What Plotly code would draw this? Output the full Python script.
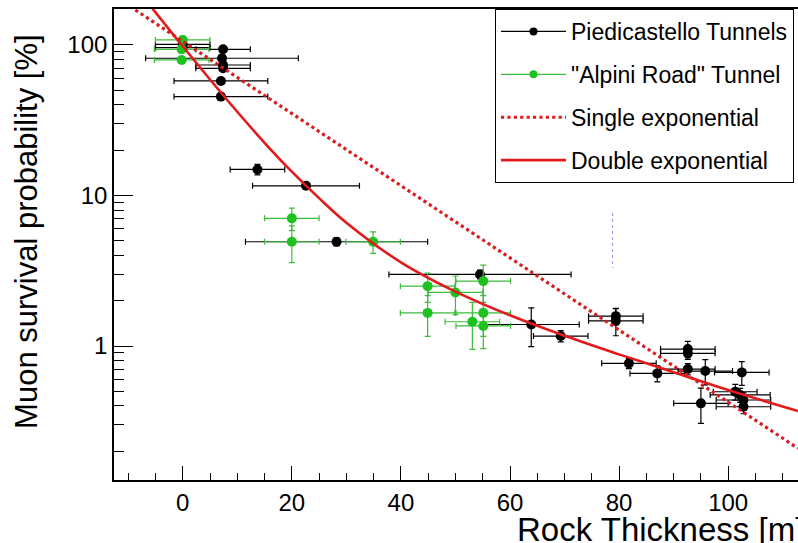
import plotly.graph_objects as go

# ---- data ----
pied_x = [0, 0, 7.4, 7.2, 7.4, 7.4, 7.0, 7.0, 13.7, 22.6, 28.2, 54.5, 63.9, 69.3,
          79.4, 79.4, 81.8, 87.0, 92.6, 92.6, 92.6, 95.8, 102.5, 95.0, 101.3, 102.2, 102.8, 102.8]
pied_y = [101, 96, 93.6, 81.6, 73.6, 70, 57.7, 45.4, 14.9, 11.6, 4.93, 2.99, 1.39, 1.165,
          1.58, 1.47, 0.767, 0.658, 0.955, 0.894, 0.703, 0.682, 0.668, 0.416, 0.497, 0.473, 0.438, 0.395]
pied_xerr = [5, 5, 5, 14, 5, 5, 8.6, 8.6, 5, 9.8, 16.7, 16.7, 8.8, 5,
             5, 5, 5, 5, 5, 5, 5, 5, 5, 5, 4, 5.5, 5, 5]
pied_yerr = [4, 4, 4, 3, 3, 3, 2.5, 2, 1.2, 0.6, 0.3, 0.2, 0.4, 0.1,
             0.2, 0.3, 0.06, 0.08, 0.12, 0.08, 0.06, 0.13, 0.12, 0.11, 0.06, 0.05, 0.05, 0.04]

alp_x = [0, -0.2, -0.2, 20, 20, 34.9, 44.9, 44.9, 50.0, 53.1, 55.1, 55.1, 55.1]
alp_y = [108, 93.6, 79.5, 7.05, 4.93, 4.93, 2.50, 1.66, 2.27, 1.45, 2.70, 1.66, 1.36]
alp_xerr = [5, 5, 5, 5, 5, 5, 5, 5, 5, 5, 5, 5, 5]
alp_yerr = [6, 5, 4, 1.2, 1.35, 0.8, 0.55, 0.5, 0.65, 0.5, 0.75, 0.5, 0.4]

single_x = [-12.6, 20, 60, 112.8]
single_y = [212, 35.0, 3.87, 0.209]

double_x = [-6, 0, 5, 10, 15, 20, 25, 30, 40, 50, 60, 70, 80, 90, 100, 112.8]
double_y = [183, 98, 59, 36, 22.4, 14.4, 9.6, 6.6, 3.6, 2.3, 1.6, 1.17, 0.88, 0.67, 0.51, 0.37]

mark_x = [78.8, 78.8]
mark_y = [7.65, 3.30]

legend_names = ["Piedicastello Tunnels", "\"Alpini Road\" Tunnel",
                "Single exponential", "Double exponential"]

FONT = "Liberation Sans, Arial, Helvetica, sans-serif"
BLACK = "#000000"
GREEN = "#1ec21e"
GREEN_ERR = "#3cbc3c"
RED = "#e31a1c"
RED_DOT = "#d81c20"

fig = go.Figure()

# data points (legend shown through proxy entries below)
fig.add_trace(go.Scatter(
    x=pied_x, y=pied_y, mode="markers", name=legend_names[0], showlegend=False,
    marker=dict(color=BLACK, size=10),
    error_x=dict(type="data", array=pied_xerr, color=BLACK, thickness=1.2, width=3),
    error_y=dict(type="data", array=pied_yerr, color=BLACK, thickness=1.2, width=3),
))
fig.add_trace(go.Scatter(
    x=alp_x, y=alp_y, mode="markers", name=legend_names[1], showlegend=False,
    marker=dict(color=GREEN, size=10),
    error_x=dict(type="data", array=alp_xerr, color=GREEN_ERR, thickness=1.2, width=3),
    error_y=dict(type="data", array=alp_yerr, color=GREEN_ERR, thickness=1.2, width=3),
))
fig.add_trace(go.Scatter(
    x=mark_x, y=mark_y, mode="lines", showlegend=False, hoverinfo="skip",
    line=dict(color="#8c9ad8", width=1, dash="dot"),
))
fig.add_trace(go.Scatter(
    x=single_x, y=single_y, mode="lines", showlegend=False,
    line=dict(color=RED_DOT, width=3.2, dash="dot"),
))
fig.add_trace(go.Scatter(
    x=double_x, y=double_y, mode="lines", showlegend=False,
    line=dict(color=RED, width=2.6, shape="spline", smoothing=1.0),
))

# legend entries (line + marker style as in the reference)
fig.add_trace(go.Scatter(x=[None], y=[None], mode="lines+markers", name=legend_names[0],
                         legendgroup="a", line=dict(color=BLACK, width=1.2),
                         marker=dict(color=BLACK, size=8)))
fig.add_trace(go.Scatter(x=[None], y=[None], mode="lines+markers", name=legend_names[1],
                         legendgroup="b", line=dict(color=GREEN_ERR, width=1.2),
                         marker=dict(color=GREEN, size=8)))
fig.add_trace(go.Scatter(x=[None], y=[None], mode="lines", name=legend_names[2],
                         legendgroup="c", line=dict(color=RED_DOT, width=3.2, dash="dot")))
fig.add_trace(go.Scatter(x=[None], y=[None], mode="lines", name=legend_names[3],
                         legendgroup="d", line=dict(color=RED, width=2.6)))

fig.update_layout(
    width=798, height=543,
    margin=dict(l=114, r=0, t=9, b=63),
    paper_bgcolor="white", plot_bgcolor="white",
    font=dict(family=FONT, color="black", size=24),
    showlegend=True,
    legend=dict(
        x=0.557, y=1.0, xanchor="left", yanchor="top",
        bgcolor="white", bordercolor="black", borderwidth=1,
        font=dict(family=FONT, size=23, color="black"),
        itemwidth=65, tracegroupgap=10, traceorder="grouped",
    ),
    xaxis=dict(
        range=[-12.6, 112.8], tickmode="array",
        tickvals=[0, 20, 40, 60, 80, 100], ticktext=["0", "20", "40", "60", "80", "100"],
        ticks="inside", ticklen=14, tickwidth=1.3, tickcolor="black",
        minor=dict(ticks="inside", ticklen=7, tickwidth=1.3, tickcolor="black", dtick=5, tick0=0, showgrid=False),
        showline=True, linecolor="black", linewidth=1.6, mirror=True,
        showgrid=False, zeroline=False,
        tickfont=dict(family=FONT, size=24),
    ),
    yaxis=dict(
        type="log", range=[-0.890, 2.239], tickmode="array",
        tickvals=[1, 10, 100], ticktext=["1", "10", "100"],
        ticks="inside", ticklen=19, tickwidth=1.3, tickcolor="black",
        minor=dict(ticks="inside", ticklen=10, tickwidth=1.3, tickcolor="black",
                   tickvals=[0.2, 0.3, 0.4, 0.5, 0.6, 0.7, 0.8, 0.9,
                             2, 3, 4, 5, 6, 7, 8, 9, 20, 30, 40, 50, 60, 70, 80, 90],
                   showgrid=False),
        showline=True, linecolor="black", linewidth=1.6,
        showgrid=False, zeroline=False,
        tickfont=dict(family=FONT, size=24),
    ),
    annotations=[
        dict(text="Muon survival probability [%]", xref="paper", yref="paper",
             x=-0.127, y=0.527, xanchor="center", yanchor="middle", textangle=-90,
             showarrow=False, font=dict(family=FONT, size=31, color="black")),
        dict(text="Rock Thickness [m]", xref="paper", yref="paper",
             x=0.586, y=-0.106, xanchor="left", yanchor="middle",
             showarrow=False, font=dict(family=FONT, size=33, color="black")),
    ],
)

fig.write_html("out.html")
